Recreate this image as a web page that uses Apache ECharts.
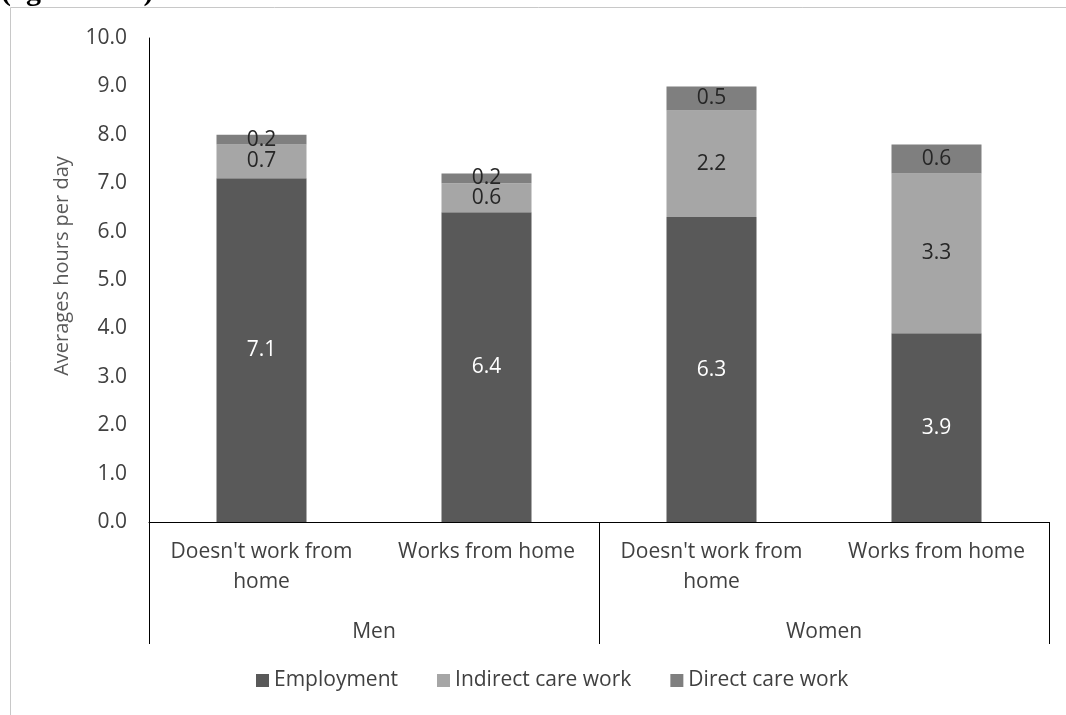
<!DOCTYPE html>
<html><head><meta charset="utf-8">
<script src="https://cdn.jsdelivr.net/npm/echarts@6/dist/echarts.min.js"></script>
<style>html,body{margin:0;padding:0;background:#fff}#c{width:1066px;height:715px}</style>
</head><body><div id="c"></div>
<script>
const categories = ["Doesn't work from\nhome", "Works from home", "Doesn't work from\nhome", "Works from home"];
const groups = ["Men", "Women"];
const employment = [7.1, 6.4, 6.3, 3.9];
const indirectCare = [0.7, 0.6, 2.2, 3.3];
const directCare = [0.2, 0.2, 0.5, 0.6];
const yTicks = [0, 1, 2, 3, 4, 5, 6, 7, 8, 9, 10];

const FONT = "Open Sans";
const FS = 21;
const chart = echarts.init(document.getElementById('c'), null, {renderer: 'canvas'});
const lbl = (color) => ({show: true, position: 'inside', color: color, fontFamily: FONT, fontSize: FS,
  formatter: p => p.value.toFixed(1)});
chart.setOption({
  animation: false,
  backgroundColor: '#fff',
  graphic: [
    {type: 'rect', shape: {x: 10.5, y: 7.5, width: 1100, height: 800}, style: {fill: 'none', stroke: '#c8c8c8', lineWidth: 1}},
    {type: 'text', left: 1, top: -23, style: {text: '(ages 15-64)', font: 'bold 30px "Liberation Serif"', fill: '#000'}},
    {type: 'text', x: 62, y: 266, rotation: Math.PI / 2,
     style: {text: 'Averages hours per day', font: '20px "Open Sans"', fill: '#595959', align: 'center', verticalAlign: 'middle'}}
  ],
  grid: {left: 149, right: 17, top: 38, bottom: 193, containLabel: false},
  legend: {
    bottom: 19, left: 251, icon: 'rect', itemWidth: 13, itemHeight: 13, itemGap: 39,
    textStyle: {fontFamily: FONT, fontSize: FS, color: '#404040'},
    data: ['Employment', 'Indirect care work', 'Direct care work']
  },
  xAxis: [
    {type: 'category', data: categories, position: 'bottom',
     axisLine: {show: true, lineStyle: {color: '#000', width: 1}},
     axisTick: {show: false},
     axisLabel: {interval: 0, margin: 15, lineHeight: 30, fontFamily: FONT, fontSize: FS, color: '#404040'}},
    {type: 'category', data: groups, position: 'bottom', offset: 0,
     axisLine: {show: false},
     axisTick: {show: true, length: 122, interval: 0, lineStyle: {color: '#000', width: 1}},
     axisLabel: {interval: 0, margin: 100, fontFamily: FONT, fontSize: FS, color: '#404040'}}
  ],
  yAxis: {
    type: 'value', min: 0, max: 10, interval: 1,
    axisLine: {show: true, lineStyle: {color: '#000', width: 1}},
    axisTick: {show: false}, splitLine: {show: false},
    axisLabel: {margin: 22, fontFamily: FONT, fontSize: FS, color: '#404040',
      formatter: v => yTicks.includes(v) ? v.toFixed(1) : ''}
  },
  series: [
    {name: 'Employment', type: 'bar', stack: 's', barWidth: '40%', data: employment,
     itemStyle: {color: '#595959'}, label: lbl('#ffffff')},
    {name: 'Indirect care work', type: 'bar', stack: 's', data: indirectCare,
     itemStyle: {color: '#a6a6a6'}, label: lbl('#262626')},
    {name: 'Direct care work', type: 'bar', stack: 's', data: directCare,
     itemStyle: {color: '#7f7f7f'}, label: lbl('#262626')}
  ]
});
</script></body></html>
